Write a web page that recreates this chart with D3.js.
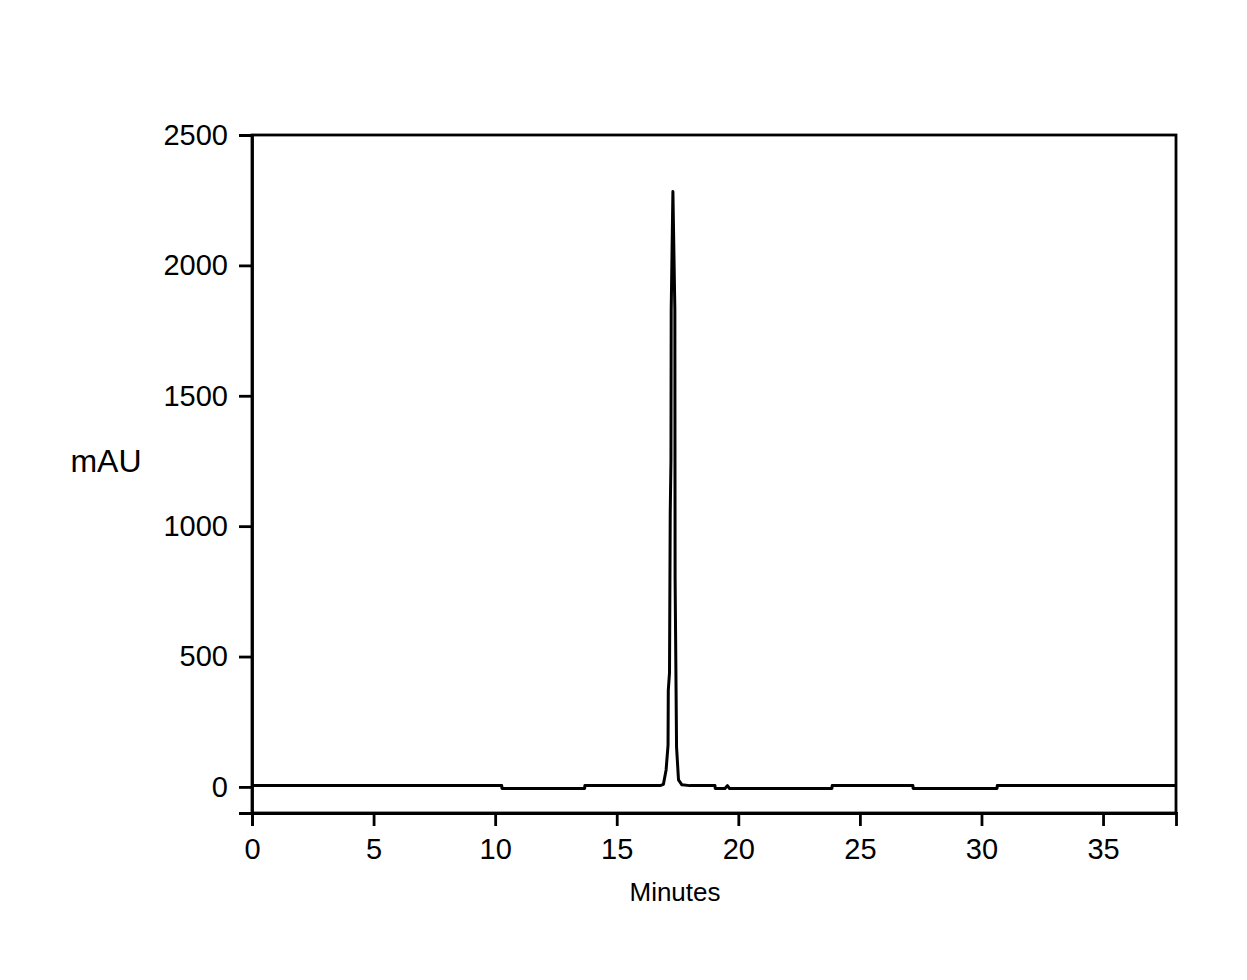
<!DOCTYPE html>
<html>
<head>
<meta charset="utf-8">
<script src="https://cdn.jsdelivr.net/npm/d3@7"></script>
<style>
  html, body { margin: 0; padding: 0; background: #fff; }
  svg { display: block; }
  text { font-family: Arial, "Liberation Sans", sans-serif; fill: #000; }
</style>
</head>
<body>
<svg id="chart" width="1247" height="980"></svg>
<script>
// Chromatogram trace: retention time (minutes) and absorbance (mAU)
const timeMin = [0, 10.27, 10.28, 13.68, 13.69, 16.78, 16.92, 17.03, 17.11, 17.12, 17.17, 17.20, 17.23, 17.24,
  17.31, 17.39, 17.40, 17.46, 17.54, 17.68, 18.01, 19.04, 19.05, 19.45, 19.55, 19.64, 23.85, 23.86,
  27.18, 27.19, 30.64, 30.65, 38];
const absorbance = [5, 5, -6, -6, 5, 5, 10, 65, 160, 370, 437, 1050, 1254, 1829,
  2283, 1829, 805, 153, 27, 8, 5, 5, -6, -6, 5, -6, -6, 5,
  5, -6, -6, 5, 5];
const xTicks = [0, 5, 10, 15, 20, 25, 30, 35];
const yTicks = [0, 500, 1000, 1500, 2000, 2500];
const xDomain = [0, 38];
const yDomain = [-100, 2500];
const xTitle = "Minutes";
const yTitle = "mAU";

const data = timeMin.map((t, i) => ({ t, v: absorbance[i] }));

const svg = d3.select("#chart");
const pLeft = 252, pRight = 1176, pTop = 135, pBottom = 813;

const x = d3.scaleLinear().domain(xDomain).range([pLeft, pRight]);
const y = d3.scaleLinear().domain(yDomain).range([pBottom, pTop]);

const sw = 2.8;
const font = "Arial, 'Liberation Sans', sans-serif";

// frame
svg.append("rect")
  .attr("x", pLeft).attr("y", pTop)
  .attr("width", pRight - pLeft).attr("height", pBottom - pTop)
  .attr("fill", "none").attr("stroke", "#000").attr("stroke-width", sw);

// x axis
const gx = svg.append("g")
  .attr("transform", `translate(0,${pBottom})`)
  .call(d3.axisBottom(x).tickValues(xTicks).tickSize(13).tickPadding(12).tickFormat(d3.format("d")));
gx.select(".domain").attr("stroke-width", sw);
gx.selectAll(".tick line").attr("stroke-width", sw);
gx.selectAll(".tick text").attr("font-size", 29).attr("font-family", font);

// y axis
const gy = svg.append("g")
  .attr("transform", `translate(${pLeft},0)`)
  .call(d3.axisLeft(y).tickValues(yTicks).tickSize(13).tickPadding(11).tickFormat(d3.format("d")));
gy.select(".domain").attr("stroke-width", sw);
gy.selectAll(".tick line").attr("stroke-width", sw);
gy.selectAll(".tick text").attr("font-size", 29).attr("font-family", font);

// trace
const line = d3.line().x(d => x(d.t)).y(d => y(d.v));
svg.append("path")
  .datum(data)
  .attr("d", line)
  .attr("fill", "none")
  .attr("stroke", "#000")
  .attr("stroke-width", 3)
  .attr("stroke-linejoin", "round");

// titles
svg.append("text")
  .attr("x", 675).attr("y", 901)
  .attr("text-anchor", "middle")
  .attr("font-size", 26)
  .text(xTitle);

svg.append("text")
  .attr("x", 106).attr("y", 472)
  .attr("text-anchor", "middle")
  .attr("font-size", 32)
  .text(yTitle);
</script>
</body>
</html>
